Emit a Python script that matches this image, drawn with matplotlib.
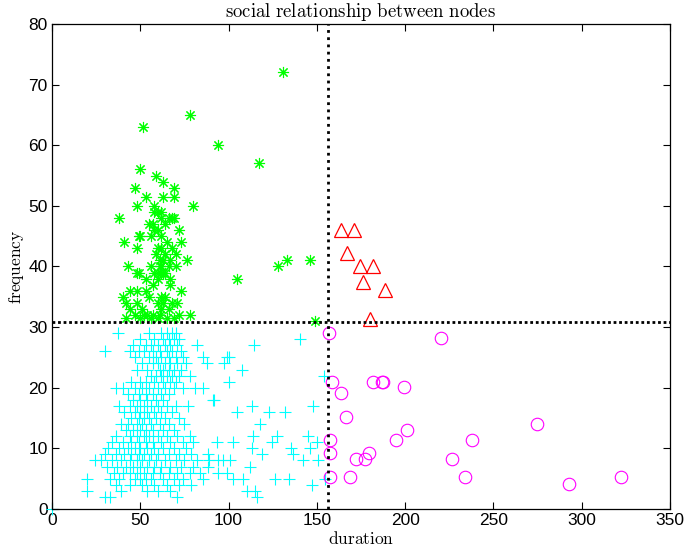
import numpy as np
import matplotlib.pyplot as plt

plt.rcParams['mathtext.fontset'] = 'cm'
plt.rcParams['font.family'] = ['Liberation Sans', 'DejaVu Sans']

# green stars (frequent contacts, short duration)
green_x = [51.7, 78, 94, 117, 131, 133, 146, 128, 105, 149, 80, 38, 76.7,
           50, 59, 63, 47, 69, 53, 63, 69, 48, 58, 58, 60, 62, 62, 68, 69, 66,
           57, 64, 55, 58, 72, 60, 49, 50, 62, 56, 41, 73, 65, 48, 60, 68, 62,
           64, 70, 59, 61, 63, 67, 43, 61, 62, 56, 66, 70, 48, 49, 60, 62, 63,
           64, 58, 53, 60, 67, 57, 67, 44, 48, 53, 73, 40, 55, 64, 62, 42, 48,
           60, 63, 68, 71, 44, 51, 62, 66, 47, 52, 54, 61, 57, 78, 72, 42, 50,
           56, 60, 65, 69]
green_y = [63, 65, 60, 57, 72, 41, 41, 40, 38, 31, 50, 48, 41,
           56, 55, 54, 53, 53, 51.5, 51.5, 51.5, 50, 50, 49, 49, 49, 48, 48, 48, 48,
           47, 47, 47, 46, 46, 46, 45, 45, 45, 45, 44, 44, 44, 43, 43, 43, 43,
           42, 42, 42, 41, 41, 41, 40, 40, 40, 40, 40, 40, 39, 39, 39, 39, 39,
           39, 39, 38, 38, 38, 37, 37, 36, 36, 36, 36, 35, 35, 35, 35, 34, 34,
           34, 34, 34, 34, 33, 33, 33, 33, 32, 32, 32, 32, 32, 32, 32, 31.5, 31.5,
           31.5, 31.5, 31.5, 31.5]

# cyan pluses (rare contacts, short duration), listed row by row
cyan_rows = {
    29: [37.6, 55, 62, 65, 68, 70],
    28: [50, 58, 63, 66, 69, 72, 140.5],
    27: [46, 53, 56, 60, 64, 67, 71, 81.9, 114.4],
    26: [30, 44, 49, 52, 57, 61, 65, 68, 73],
    25: [47, 55, 59, 62, 66, 70, 74, 85.3, 98.9, 100.4],
    24: [51, 57, 60, 64, 67, 71, 76, 87.6, 97.4],
    23: [48, 54, 61, 63, 66, 69, 73, 107.4],
    22: [56, 59, 62, 65, 68, 72, 78, 154],
    21: [45, 50, 53, 58, 63, 67, 70, 100.4],
    20: [36, 40, 47, 51, 55, 60, 64, 69, 74, 81, 85.7],
    19: [43, 49, 53, 57, 62, 66],
    18: [46, 50, 54, 59, 63, 91.4, 92],
    17: [38, 44, 48, 52, 56, 60, 65, 70, 77, 113.1, 148],
    16: [41, 47, 50, 54, 58, 62, 68, 104.6, 123.1, 132],
    15: [45, 49, 52, 55, 59, 64, 72],
    14: [39, 43, 48, 51, 56, 61, 66, 75, 117.8],
    13: [42, 46, 50, 53, 57, 63, 69],
    12: [36, 44, 48, 52, 55, 60, 65, 71, 78, 114, 127.3, 145.2],
    11: [34, 40, 45, 49, 53, 57, 62, 67, 74, 80, 93.3, 102.7, 124.4, 149.9],
    10: [32, 38, 43, 47, 50, 54, 58, 63, 69, 76, 113.1, 135.2, 146.1],
    9: [30, 36, 41, 45, 49, 52, 56, 60, 66, 72, 79, 88.2, 118.8, 136.7],
    8: [24.4, 28, 34, 39, 44, 48, 51, 55, 59, 64, 70, 75, 82, 89.1, 94.2, 97,
        100.8, 142.3, 150.8],
    7: [31, 37, 42, 46, 50, 54, 58, 62, 67, 73, 80, 88.5, 112.1],
    6: [35, 40, 44, 48, 52, 57, 61, 66, 71, 78, 84, 94.2, 98.9],
    5: [19.6, 33, 38, 47, 50, 53, 56, 63, 69, 74, 85.7, 102.7, 108.3, 126.3,
        134.4, 154.6],
    4: [36, 44, 51, 58, 65, 72, 79, 147.1],
    3: [19.6, 39, 53.6, 60, 67, 110.2, 115],
    2: [30, 33, 70.6, 115.9],
    0: [0],
}
cyan_x = [x for y, xs in cyan_rows.items() for x in xs]
cyan_y = [y for y, xs in cyan_rows.items() for x in xs]

# red triangles (frequent contacts, long duration)
red_x = [163.5, 171.2, 167.3, 174.4, 182, 176.3, 188.6, 180.1]
red_y = [46.1, 46.1, 42.3, 40.1, 40.1, 37.4, 36.2, 31.3]

# magenta circles (rare contacts, long duration)
mag_x = [157.1, 220.5, 158.4, 181.6, 186.7, 187.6, 199.5, 163.5, 166.5, 274.9,
         200.9, 157.4, 194.6, 238, 157.4, 179.5, 172.2, 177.3, 226.7, 157.4,
         168.8, 233.9, 292.8, 322.2]
mag_y = [29.0, 28.2, 21.0, 21.0, 21.0, 21.0, 20.2, 19.2, 15.2, 14.1,
         13.1, 11.4, 11.4, 11.4, 9.2, 9.2, 8.3, 8.3, 8.3, 5.2,
         5.2, 5.2, 4.2, 5.2]

dur_split = 156.1
freq_split = 30.9

fig = plt.figure(figsize=(6.85, 5.53), dpi=100)
ax = fig.add_axes([0.0759, 0.0796, 0.9022, 0.877])

ax.plot(cyan_x, cyan_y, '+', color='#00ffff', ms=9, mew=0.8, clip_on=False)
ax.plot(green_x, green_y, ls='none', marker=(8, 2, 0), color='#00ff00',
        ms=8, mew=0.8, clip_on=False)
ax.plot(mag_x, mag_y, 'o', mfc='none', mec='#ff00ff', ms=9, mew=0.8, clip_on=False)
ax.plot(red_x, red_y, '^', mfc='none', mec='#ff0000', ms=10, mew=0.9, clip_on=False)

ax.axvline(dur_split, color='black', ls=(0, (1, 1.6)), lw=2)
ax.axhline(freq_split, color='black', ls=(0, (1, 1.0)), lw=2)

ax.set_xlim(0, 350)
ax.set_ylim(0, 80)
ax.set_xticks(np.arange(0, 351, 50))
ax.set_yticks(np.arange(0, 81, 10))
ax.tick_params(direction='in', top=True, right=True, length=5, width=0.8,
               labelsize=12.5, pad=3)
for s in ax.spines.values():
    s.set_linewidth(0.9)

ax.set_title(r'$\mathrm{social\ relationship\ between\ nodes}$', fontsize=13.5, pad=5)
ax.set_xlabel(r'$\mathrm{duration}$', fontsize=12.5, labelpad=1)
ax.set_ylabel(r'$\mathrm{frequency}$', fontsize=12.5, labelpad=2)

fig.savefig('out.png', dpi=100)
